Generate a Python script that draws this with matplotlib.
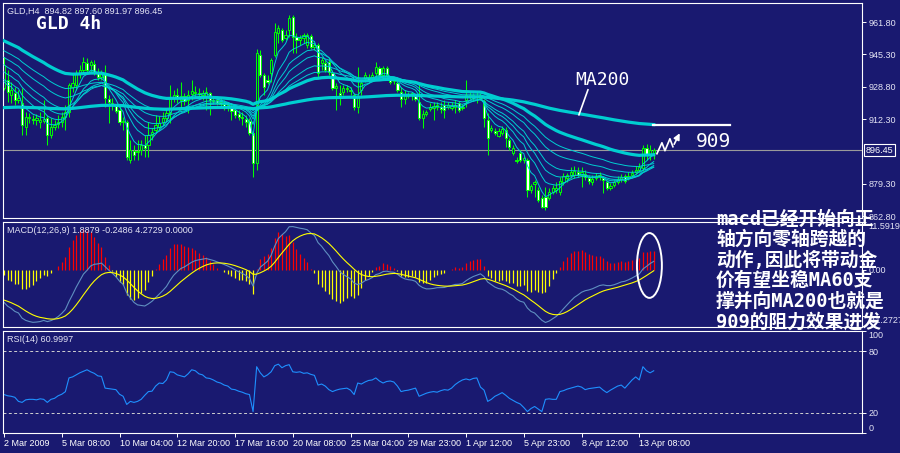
import numpy as np
import pandas as pd
import matplotlib.pyplot as plt
import matplotlib.transforms as mtransforms
from matplotlib.patches import Ellipse

plt.rcParams["font.family"] = ["Liberation Sans", "DejaVu Sans"]

BG = "#191970"
GREEN = "#00ff00"
MA_COLOR = "#00ced1"
LABEL = "#e4e4f4"

# GLD H4 candles (bar 0 = 2 Mar 2009)
opens = [
    928.1, 932.2, 924.6, 925.6, 922.0, 920.5, 908.2, 912.8, 912.3, 911.8,
    910.8, 911.3, 912.8, 904.2, 908.2, 909.8, 910.8, 913.3, 915.9, 928.6,
    929.7, 935.8, 937.3, 940.9, 939.9, 940.4, 936.3, 933.7, 935.8, 922.5,
    920.5, 919.5, 916.9, 910.8, 910.8, 891.4, 896.0, 895.5, 896.5, 899.1,
    899.1, 904.2, 906.7, 908.2, 910.8, 912.8, 915.4, 923.0, 924.6, 922.0,
    924.0, 922.0, 925.1, 925.6, 925.6, 924.6, 924.0, 925.6, 921.5, 922.0,
    921.0, 920.0, 919.5, 917.9, 916.9, 914.9, 913.3, 912.3, 911.3, 905.2,
    889.9, 945.0, 934.8, 932.2, 935.8, 945.0, 956.2, 957.7, 953.6, 957.7,
    964.3, 954.1, 952.6, 953.6, 950.1, 954.6, 949.0, 950.1, 940.9, 940.9,
    941.4, 935.8, 928.1, 925.6, 926.1, 927.6, 927.1, 924.6, 918.4, 927.1,
    933.2, 933.7, 933.7, 935.8, 938.3, 934.8, 938.3, 933.2, 931.7, 930.7,
    926.1, 922.5, 924.0, 924.6, 924.0, 921.0, 912.8, 914.9, 917.4, 917.9,
    918.4, 918.4, 919.5, 918.4, 917.9, 918.4, 920.5, 917.9, 922.0, 923.5,
    923.0, 923.5, 923.0, 921.5, 911.8, 906.7, 906.2, 903.6, 905.2, 906.7,
    901.6, 895.0, 891.4, 895.0, 891.4, 891.4, 876.1, 879.2, 876.1, 872.0,
    872.5, 872.0, 875.1, 876.1, 875.1, 880.2, 882.2, 883.8, 883.8, 885.3,
    883.8, 884.3, 882.2, 880.2, 882.2, 882.7, 882.2, 880.2, 877.1, 878.7,
    880.2, 881.7, 883.2, 882.2, 883.8, 885.3, 886.3, 887.3, 897.5, 894.0,
    894.82,
]
highs = [
    943.9, 937.3, 931.2, 928.6, 927.1, 928.1, 915.9, 915.4, 914.4, 914.9,
    915.9, 922.0, 914.4, 912.8, 911.8, 914.4, 915.9, 919.5, 930.7, 935.8,
    937.3, 939.9, 943.9, 943.4, 942.4, 942.4, 938.3, 937.3, 939.9, 924.6,
    923.0, 920.0, 918.9, 913.3, 911.8, 901.6, 899.1, 901.6, 901.6, 904.2,
    910.8, 907.7, 914.4, 913.8, 915.9, 917.9, 929.7, 927.1, 928.1, 931.2,
    925.6, 927.1, 932.2, 929.1, 928.1, 927.1, 928.6, 926.1, 924.0, 924.0,
    923.0, 922.0, 921.0, 920.5, 918.9, 916.9, 915.9, 914.4, 912.8, 906.2,
    948.0, 947.5, 935.8, 934.8, 943.4, 961.3, 960.3, 958.7, 957.7, 965.4,
    965.4, 956.2, 955.2, 956.2, 956.2, 955.7, 951.1, 951.1, 943.9, 942.4,
    943.4, 937.3, 930.7, 929.7, 929.7, 929.7, 928.6, 925.6, 938.8, 932.2,
    936.3, 935.3, 936.3, 941.4, 939.3, 939.3, 939.3, 934.2, 933.7, 932.2,
    928.6, 927.1, 926.1, 926.1, 925.1, 930.7, 916.9, 916.9, 920.5, 921.0,
    921.0, 921.0, 922.0, 921.0, 921.0, 922.0, 921.5, 920.0, 932.2, 926.1,
    925.6, 926.1, 925.6, 922.5, 915.4, 909.3, 907.7, 907.7, 908.7, 908.2,
    902.6, 899.1, 892.9, 896.5, 893.4, 892.4, 879.2, 881.2, 877.6, 873.6,
    877.6, 877.1, 878.7, 880.2, 882.7, 884.8, 884.8, 887.8, 888.3, 887.8,
    887.8, 886.3, 883.8, 883.8, 884.8, 885.3, 883.2, 881.2, 879.7, 881.2,
    883.2, 884.3, 884.3, 885.3, 886.3, 888.3, 889.9, 899.1, 899.6, 899.1,
    897.60,
]
lows = [
    927.1, 921.0, 920.5, 919.5, 920.5, 904.2, 904.2, 910.3, 909.8, 909.3,
    907.7, 910.3, 899.1, 902.6, 906.7, 907.7, 908.2, 906.7, 913.3, 926.1,
    927.1, 933.2, 935.8, 935.8, 935.8, 934.8, 932.2, 932.2, 918.4, 910.3,
    916.9, 915.4, 909.3, 906.7, 891.4, 889.9, 891.4, 891.4, 894.0, 892.9,
    892.9, 901.6, 905.2, 906.7, 909.3, 910.8, 910.3, 921.0, 920.5, 916.9,
    919.5, 915.4, 922.0, 923.5, 923.0, 922.0, 916.9, 914.4, 920.0, 919.5,
    918.4, 916.9, 916.4, 911.8, 912.8, 911.8, 909.3, 908.2, 904.2, 882.7,
    886.3, 933.7, 924.6, 930.2, 931.2, 943.9, 951.1, 951.6, 952.6, 954.1,
    946.0, 946.0, 950.1, 951.1, 948.5, 948.0, 947.5, 933.7, 937.3, 936.3,
    934.8, 927.1, 916.9, 919.5, 924.6, 926.1, 924.6, 916.9, 915.4, 924.6,
    931.2, 931.2, 932.2, 933.7, 933.7, 933.7, 933.2, 930.2, 930.2, 926.1,
    918.4, 920.0, 923.0, 922.0, 921.5, 911.8, 907.7, 913.8, 916.4, 911.8,
    916.9, 915.4, 912.8, 917.4, 916.9, 915.4, 915.9, 916.9, 918.4, 922.5,
    921.5, 920.5, 922.0, 908.2, 894.0, 905.7, 904.2, 903.1, 904.2, 898.0,
    896.5, 894.0, 889.9, 890.4, 889.9, 872.5, 874.6, 872.5, 870.0, 866.9,
    865.9, 871.0, 874.1, 874.6, 873.6, 878.7, 880.2, 882.2, 882.2, 882.7,
    877.6, 881.2, 879.2, 878.7, 881.2, 881.2, 874.6, 876.1, 876.1, 877.6,
    879.2, 880.2, 879.7, 881.2, 882.7, 884.3, 885.3, 885.8, 891.4, 891.4,
    891.97,
]
closes = [
    939.9, 926.1, 927.1, 922.0, 923.0, 909.3, 913.3, 913.3, 911.8, 912.8,
    911.8, 912.3, 904.2, 908.2, 909.3, 910.8, 913.3, 915.9, 929.7, 930.7,
    935.8, 937.3, 941.4, 937.3, 941.4, 936.3, 933.7, 935.3, 923.0, 921.0,
    919.5, 916.4, 910.8, 911.3, 892.9, 896.5, 894.0, 896.0, 899.1, 897.5,
    904.2, 905.7, 909.3, 910.3, 912.8, 915.4, 923.5, 924.6, 923.0, 924.0,
    921.5, 924.6, 926.6, 926.1, 925.1, 925.6, 926.1, 922.0, 922.0, 920.5,
    920.0, 918.9, 917.9, 916.4, 914.4, 913.3, 912.8, 910.8, 905.2, 889.9,
    946.0, 934.8, 928.6, 931.2, 942.4, 956.7, 958.7, 952.6, 955.2, 963.8,
    954.1, 952.6, 953.6, 955.2, 955.2, 949.0, 950.1, 935.8, 942.4, 937.3,
    936.3, 928.1, 929.1, 924.6, 928.1, 928.1, 926.6, 918.4, 923.5, 930.7,
    934.8, 932.2, 934.8, 938.8, 934.8, 938.3, 934.8, 931.2, 932.2, 927.1,
    922.5, 924.0, 925.1, 925.6, 922.5, 912.8, 914.9, 915.9, 918.4, 918.9,
    919.5, 917.4, 916.9, 919.5, 918.9, 919.5, 916.9, 918.4, 924.6, 924.6,
    924.6, 924.0, 924.6, 912.8, 902.6, 907.7, 905.2, 906.2, 907.2, 902.6,
    898.0, 897.5, 890.9, 891.4, 892.4, 876.1, 878.1, 880.2, 871.0, 867.4,
    867.4, 875.1, 877.1, 877.1, 880.7, 883.2, 883.8, 885.3, 885.8, 883.8,
    885.3, 882.7, 880.7, 881.7, 883.2, 883.8, 881.2, 877.1, 878.1, 880.2,
    881.7, 882.7, 880.7, 883.2, 884.8, 886.3, 887.8, 897.5, 894.0, 896.5,
    896.45,
]
rsi = [
    37.7, 36.5, 36.0, 35.0, 31.0, 30.0, 32.5, 33.0, 33.0, 32.5,
    33.5, 33.0, 30.0, 33.0, 34.0, 36.5, 38.0, 40.5, 54.0, 55.0,
    57.0, 59.0, 60.5, 62.0, 60.0, 58.5, 56.0, 55.5, 44.0, 43.5,
    43.0, 42.5, 38.0, 36.0, 28.0, 31.0, 30.0, 31.0, 33.0, 37.0,
    40.6, 41.0, 46.0, 49.0, 48.5, 52.0, 60.0, 59.5, 57.0, 56.0,
    55.0, 58.0, 62.0, 61.0, 58.0, 57.0, 54.0, 53.5, 52.0, 50.0,
    49.0, 47.0, 46.0, 43.0, 42.5, 41.0, 40.0, 38.5, 37.7, 21.0,
    65.0, 59.0, 55.0, 57.0, 60.0, 66.0, 67.5, 64.0, 66.0, 67.0,
    60.0, 59.5, 60.0, 58.5, 59.0, 57.5, 56.5, 47.0, 48.0, 46.0,
    42.5, 40.6, 42.0, 43.0, 43.5, 44.0, 42.0, 37.7, 49.0, 48.0,
    50.0, 51.5, 52.0, 54.0, 51.0, 49.0, 50.5, 51.0, 50.0, 46.0,
    40.6, 41.5, 42.0, 43.0, 44.0, 36.0, 37.5, 39.0, 40.0, 40.6,
    40.0, 41.5, 42.5, 42.0, 44.0, 47.5, 50.0, 52.0, 53.0, 52.0,
    53.5, 54.0, 45.0, 42.0, 31.0, 33.0, 36.0, 37.7, 39.6, 37.0,
    34.0, 32.0, 30.0, 28.5, 25.0, 21.0, 24.0, 26.0, 23.5, 21.0,
    33.0, 33.5, 33.0, 33.0, 40.6, 41.5, 43.0, 44.0, 45.0, 46.0,
    45.0, 42.5, 43.5, 44.0, 44.5, 45.0, 42.0, 39.6, 42.0, 44.0,
    46.0, 47.0, 44.0, 48.0, 52.0, 55.0, 52.0, 65.0, 61.0, 59.0,
    60.9997,
]

last_price = 896.45
fast_spans = [5, 10, 15, 20, 30, 40]
fast_seeds = [927.0, 930.7, 935.8, 940.0, 944.0, 947.5]   # EMA levels at the left edge
slow_spans = [60, 200]
slow_seeds = [952.6, 917.9]
macd_fast_seed = 946.0
macd_slow_seed = 954.0
signal_seed = -7.2

price_ticks = [961.80, 945.30, 928.80, 912.30, 879.30, 862.80]
macd_ticks = [11.5919, 0.0, -11.2727]
macd_tick_labels = ["11.5919", "0.00", "-11.2727"]
rsi_levels = [80, 20]
time_bars = [0, 16, 32, 48, 64, 80, 96, 112, 128, 144, 160, 176]
time_labels = ["2 Mar 2009", "5 Mar 08:00", "10 Mar 04:00", "12 Mar 20:00",
               "17 Mar 16:00", "20 Mar 08:00", "25 Mar 04:00", "29 Mar 23:00",
               "1 Apr 12:00", "5 Apr 23:00", "8 Apr 12:00", "13 Apr 08:00"]

note_lines = ["macd已经开始向正", "轴方向零轴跨越的", "动作,因此将带动金",
              "价有望坐稳MA60支", "撑并向MA200也就是", "909的阻力效果进发"]


def seeded_ema(values, span, seed):
    s = pd.Series([seed] + list(values))
    return s.ewm(span=span, adjust=False).mean().iloc[1:].to_numpy()


o = np.array(opens)
h = np.array(highs)
l = np.array(lows)
c = np.array(closes)
x = np.arange(len(c))

macd = seeded_ema(c, 12, macd_fast_seed) - seeded_ema(c, 26, macd_slow_seed)
signal = seeded_ema(macd, 9, signal_seed)
hist = 2 * (macd - signal)

W, H = 900, 453
fig = plt.figure(figsize=(9, 4.53), dpi=100, facecolor=BG)


def box(left, top, right, bottom):
    return [left / W, 1 - bottom / H, (right - left) / W, (bottom - top) / H]


ax_p = fig.add_axes(box(3, 3, 862, 218))
ax_m = fig.add_axes(box(3, 222, 862, 327))
ax_r = fig.add_axes(box(3, 331, 862, 433))

XMIN, XMAX = -0.28, 237.7
for ax in (ax_p, ax_m, ax_r):
    ax.set_facecolor(BG)
    ax.set_xlim(XMIN, XMAX)
    for s in ax.spines.values():
        s.set_color("white")
        s.set_linewidth(0.8)
    ax.yaxis.tick_right()
    ax.tick_params(axis="y", colors="white", labelcolor=LABEL, labelsize=6.5,
                   length=3, width=0.7, pad=1.5)
    ax.tick_params(axis="x", bottom=False, labelbottom=False)

# ---- price panel ----
ax_p.set_ylim(861.8, 971.5)
up = c >= o
ax_p.vlines(x, l, h, color=GREEN, lw=0.75, zorder=2)
body = np.maximum(np.abs(c - o), 0.35)
ax_p.bar(x, body, bottom=np.minimum(o, c), width=0.62,
         color=np.where(up, BG, "white"), edgecolor=GREEN, linewidth=0.7, zorder=2.5)

for span, seed in zip(fast_spans, fast_seeds):
    ax_p.plot(x, seeded_ema(c, span, seed), color=MA_COLOR, lw=0.7, zorder=3)
for span, seed in zip(slow_spans, slow_seeds):
    ax_p.plot(x, seeded_ema(c, span, seed), color=MA_COLOR, lw=2.3, zorder=4)

ax_p.axhline(last_price, color="#9a9a9a", lw=0.8, zorder=1)
ax_p.set_yticks(price_ticks, [f"{v:.2f}" for v in price_ticks])
blend = mtransforms.blended_transform_factory(ax_p.transAxes, ax_p.transData)
ax_p.text(1.004, last_price, f"{last_price:.2f}", transform=blend, ha="left", va="center",
          fontsize=6.5, color="white",
          bbox=dict(boxstyle="square,pad=0.2", fc=BG, ec="white", lw=0.8))


def px(xp):
    return (xp - 4) / 3.61


def py(yp):
    return 971.5 - (yp - 3) * 0.5093


# annotations drawn on the chart
ax_p.text(px(575), py(80), "MA200", color="white", fontsize=13,
          family="DejaVu Sans Mono", ha="left", va="center", zorder=6)
ax_p.plot([px(588), px(579)], [py(90), py(115)], color="white", lw=1.2, zorder=6)
ax_p.plot([px(653), px(730)], [909, 909], color="white", lw=1.6, zorder=6)
ax_p.text(px(696), py(142), "909", color="white", fontsize=14,
          family="DejaVu Sans Mono", ha="left", va="center", zorder=6)
zz_x = [px(v) for v in (657, 662, 665, 670, 673)]
zz_y = [py(v) for v in (154, 143, 151, 139, 147)]
ax_p.plot(zz_x, zz_y, color="white", lw=1.2, zorder=6)
ax_p.annotate("", xy=(px(681), py(131)), xytext=(zz_x[-1], zz_y[-1]),
              arrowprops=dict(arrowstyle="-|>", color="white", lw=1.2, mutation_scale=9),
              zorder=6)

# ---- MACD panel ----
ax_m.set_ylim(-13.9, 11.7)
ax_m.vlines(x, 0, hist, colors=np.where(hist >= 0, "#ff0000", "#ffff00"), lw=0.9)
ax_m.plot(x, macd, color="#5f8fc0", lw=0.8)
ax_m.plot(x, signal, color="#ffff00", lw=0.8)
ax_m.set_yticks(macd_ticks, macd_tick_labels)
ax_m.get_yticklabels()[0].set_va("top")
ax_m.get_yticklabels()[2].set_va("top")
ax_m.add_patch(Ellipse((px(649.5), 1.1), 6.9, 15.8, fill=False, ec="white", lw=1.4, zorder=5))

# ---- RSI panel ----
ax_r.set_ylim(0, 100)
ax_r.plot(x, rsi, color="#1e90ff", lw=0.8)
for lvl in rsi_levels:
    ax_r.axhline(lvl, color="#d0d0d0", lw=0.7, ls=(0, (3, 2.5)))
ax_r.set_yticks([0, 20, 80, 100], ["0", "20", "80", "100"])
ax_r.get_yticklabels()[0].set_va("bottom")
ax_r.get_yticklabels()[3].set_va("top")
ax_r.tick_params(axis="x", bottom=True, labelbottom=True, colors="white",
                 labelcolor="white", labelsize=6.5, length=3, width=0.7, pad=1.5)
ax_r.set_xticks(time_bars, time_labels, ha="left")

# ---- header texts ----
def ftext(xp, yp, s, **kw):
    fig.text(xp / W, 1 - yp / H, s, **kw)


ftext(7, 11.5, "GLD,H4  894.82 897.60 891.97 896.45", fontsize=6.5, color=LABEL,
      ha="left", va="center")
ftext(36, 24, "GLD 4h", fontsize=13, color="white", weight="bold",
      family="DejaVu Sans Mono", ha="left", va="center")
ftext(7, 230.5, "MACD(12,26,9) 1.8879 -0.2486 4.2729 0.0000", fontsize=6.5,
      color=LABEL, ha="left", va="center")
ftext(7, 339, "RSI(14) 60.9997", fontsize=6.5, color=LABEL, ha="left", va="center")

# the note: monospace latin, CJK falls back to Noto
for k, line in enumerate(note_lines):
    ftext(716, 219 + k * 20.6, line, fontsize=13.5, color="white", weight="bold",
          family=["DejaVu Sans Mono", "Noto Sans CJK SC"], ha="left", va="center",
          zorder=10)

fig.savefig("out.png", dpi=100, facecolor=BG)
